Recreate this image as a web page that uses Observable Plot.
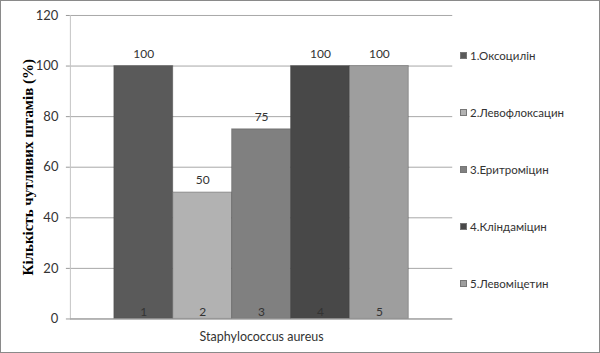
<!DOCTYPE html>
<html>
<head>
<meta charset="utf-8">
<script src="https://cdn.jsdelivr.net/npm/d3@7"></script>
<script src="https://cdn.jsdelivr.net/npm/@observablehq/plot@0.6"></script>
<style>
  html, body { margin: 0; padding: 0; background: #fff; }
  #wrap { position: relative; width: 600px; height: 353px; box-sizing: border-box; border: 1px solid #8a8a8a; overflow: hidden; }
  #chart { position: absolute; left: -1px; top: -1px; }
  #legend { position: absolute; left: 459px; top: 0; font-family: Lato, "Noto Sans", sans-serif; font-size: 11.5px; color: #333; }
  .li { position: absolute; white-space: nowrap; display: flex; align-items: center; }
  .sw { width: 7px; height: 7px; margin-right: 3px; box-sizing: border-box; border: 1px solid #777; }
  g[aria-label="y-axis label"] text { font-family: "Liberation Serif", "DejaVu Serif", serif; font-weight: bold; font-size: 15px; fill: #000; }
</style>
</head>
<body>
<div id="wrap"><div id="chart"></div><div id="legend"></div></div>
<script>
const categories = ["1", "2", "3", "4", "5"];
const drugs = ["1.Оксоцилін", "2.Левофлоксацин", "3.Еритроміцин", "4.Кліндаміцин", "5.Левоміцетин"];
const values = [100, 50, 75, 100, 100];
const colors = ["#5a5a5a", "#b2b2b2", "#808080", "#484848", "#9e9e9e"];
const yTicks = [0, 20, 40, 60, 80, 100, 120];
const xTitle = "Staphylococcus aureus";
const yTitle = "Кількість чутливих штамів (%)";

const data = categories.map((c, i) => ({cat: c, value: values[i], color: colors[i], name: drugs[i]}));

const chart = Plot.plot({
  width: 600,
  height: 353,
  marginLeft: 70,
  marginRight: 147,
  marginTop: 15,
  marginBottom: 34,
  style: {fontFamily: 'Lato, "Noto Sans", sans-serif', fontSize: "13px", color: "#333", background: "transparent"},
  x: {domain: categories, paddingInner: 0, paddingOuter: 0.72},
  y: {domain: [0, 120]},
  marks: [
    Plot.gridY(yTicks, {stroke: "#a8a8a8", strokeOpacity: 1}),
    Plot.axisY({ticks: yTicks, tickSize: 4, tickPadding: 8, stroke: "#999", fontSize: 13, fill: "#333",
      label: yTitle, labelAnchor: "center", labelArrow: "none", labelOffset: 48}),
    Plot.frame({anchor: "left", stroke: "#c4c4c4"}),
    Plot.barY(data, {x: "cat", y: "value", fill: "color", stroke: "#3a3a3a", strokeOpacity: 0.35, strokeWidth: 1}),
    Plot.ruleY([0], {stroke: "#999"}),
    Plot.text(data, {x: "cat", y: "value", text: d => String(d.value), dy: -12, fontSize: 12, fill: "#333"}),
    Plot.text(data, {x: "cat", y: 0, text: "cat", dy: -7, fontSize: 12, fill: "#333"}),
    Plot.axisX({tickSize: 0, tickFormat: () => "", label: xTitle, labelAnchor: "center", labelArrow: "none", labelOffset: 22, fontSize: 12.5, fill: "#333"})
  ]
});
document.getElementById("chart").appendChild(chart);

const legend = document.getElementById("legend");
const legendY = [56, 113, 170, 227, 284];
drugs.forEach((d, i) => {
  const el = document.createElement("div");
  el.className = "li";
  el.style.top = (legendY[i] - 8) + "px";
  el.innerHTML = `<span class="sw" style="background:${colors[i]}"></span><span>${d}</span>`;
  legend.appendChild(el);
});
</script>
</body>
</html>
